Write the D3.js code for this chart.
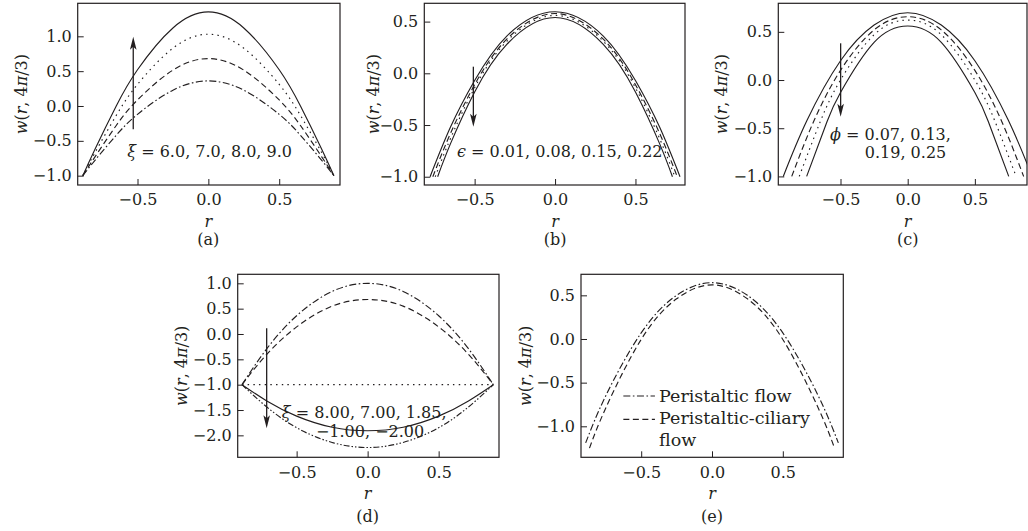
<!DOCTYPE html>
<html>
<head>
<meta charset="utf-8">
<script src="https://cdn.jsdelivr.net/npm/d3@7"></script>
<style>
  body { margin: 0; background: #fff; }
  svg text { font-family: "DejaVu Serif", serif; fill: #231f20; }
</style>
</head>
<body>
<div id="fig"></div>
<script>
// ---- data ----
// (a) xi = 6.0, 7.0, 8.0, 9.0
const rA = [-0.886, -0.8, -0.65, -0.5, -0.25, 0, 0.25, 0.5, 0.65, 0.8, 0.886];
const wA_xi9 = [-1, -0.62, 0.0, 0.52, 1.12, 1.35, 1.12, 0.52, 0.0, -0.62, -1];
const wA_xi8 = [-1, -0.67, -0.135, 0.31, 0.83, 1.03, 0.83, 0.31, -0.135, -0.67, -1];
const wA_xi7 = [-1, -0.73, -0.28, 0.087, 0.515, 0.68, 0.515, 0.087, -0.28, -0.73, -1];
const wA_xi6 = [-1, -0.78, -0.42, -0.12, 0.227, 0.36, 0.227, -0.12, -0.42, -0.78, -1];

// (b) epsilon = 0.01, 0.08, 0.15, 0.22
const rB_e01 = [-0.777, -0.65, -0.5, -0.3, 0, 0.3, 0.5, 0.65, 0.777];
const wB_e01 = [-1, -0.52, -0.07, 0.36, 0.595, 0.36, -0.07, -0.52, -1];
const rB_e08 = [-0.76, -0.65, -0.5, -0.3, 0, 0.3, 0.5, 0.65, 0.76];
const wB_e08 = [-1, -0.58, -0.11, 0.33, 0.578, 0.33, -0.11, -0.58, -1];
const rB_e15 = [-0.745, -0.65, -0.5, -0.3, 0, 0.3, 0.5, 0.65, 0.745];
const wB_e15 = [-1, -0.63, -0.14, 0.31, 0.56, 0.31, -0.14, -0.63, -1];
const rB_e22 = [-0.73, -0.65, -0.5, -0.3, 0, 0.3, 0.5, 0.65, 0.73];
const wB_e22 = [-1, -0.68, -0.18, 0.28, 0.54, 0.28, -0.18, -0.68, -1];

// (c) phi = 0.07, 0.13, 0.19, 0.25
const rC_p07 = [-0.926, -0.75, -0.5, -0.25, 0, 0.25, 0.5, 0.75, 0.926];
const wC_p07 = [-1, -0.42, 0.2, 0.57, 0.698, 0.57, 0.2, -0.42, -1];
const rC_p13 = [-0.863, -0.7, -0.5, -0.25, 0, 0.25, 0.5, 0.7, 0.863];
const wC_p13 = [-1, -0.43, 0.1, 0.52, 0.657, 0.52, 0.1, -0.43, -1];
const rC_p19 = [-0.807, -0.65, -0.5, -0.25, 0, 0.25, 0.5, 0.65, 0.807];
const wC_p19 = [-1, -0.43, 0.0, 0.47, 0.622, 0.47, 0.0, -0.43, -1];
const rC_p25 = [-0.752, -0.6, -0.5, -0.25, 0, 0.25, 0.5, 0.6, 0.752];
const wC_p25 = [-1, -0.43, -0.13, 0.39, 0.56, 0.39, -0.13, -0.43, -1];

// (d) xi = 8.00, 7.00, 1.85, -1.00, -2.00
const rD = [-0.885, -0.71, -0.5, -0.25, 0, 0.25, 0.5, 0.71, 0.885];
const wD_xi800 = [-1, -0.29, 0.36, 0.84, 1.0, 0.84, 0.36, -0.29, -1];
const wD_xi700 = [-1, -0.4, 0.14, 0.55, 0.68, 0.55, 0.14, -0.4, -1];
const wD_xi185 = [-1, -1, -1, -1, -1, -1, -1, -1, -1];
const wD_xim100 = [-1, -1.32, -1.62, -1.84, -1.91, -1.84, -1.62, -1.32, -1];
const wD_xim200 = [-1, -1.44, -1.85, -2.14, -2.24, -2.14, -1.85, -1.44, -1];

// (e) peristaltic vs peristaltic-ciliary flow
const rE_peri = [-0.892, -0.75, -0.5, -0.25, 0, 0.25, 0.5, 0.75, 0.892];
const wE_peri = [-1.19, -0.65, 0.07, 0.5, 0.645, 0.5, 0.07, -0.65, -1.19];
const rE_cil = [-0.865, -0.75, -0.5, -0.25, 0, 0.25, 0.5, 0.75, 0.865];
const wE_cil = [-1.25, -0.79, -0.005, 0.46, 0.62, 0.46, -0.005, -0.79, -1.25];

const xTicks = [-0.5, 0, 0.5];
const yTicksA = [-1, -0.5, 0, 0.5, 1];
const yTicksBCE = [-1, -0.5, 0, 0.5];
const yTicksD = [-2, -1.5, -1, -0.5, 0, 0.5, 1];
const legendE = ["Peristaltic flow", "Peristaltic-ciliary", "flow"];

// ---- drawing ----
const ink = "#231f20";
const dash = {
  solid: null,
  dot: "1.5,4.2",
  dashed: "6,3.5",
  dashdot: "7,2.5,1.6,2.5",
  dashdotdot: "6,2,1.5,2,1.5,2"
};

const svg = d3.select("#fig")
  .append("svg")
  .attr("width", 1028)
  .attr("height", 531);

const panels = [
  { id: "a", left: 77.7, right: 340, top: 3.3, bottom: 185, xd: [-0.922, 0.929], yd: [-1.134, 1.474],
    yTicks: yTicksA, ylab: -56, labOff: 60,
    series: [[rA, wA_xi9, "solid"], [rA, wA_xi8, "dot"], [rA, wA_xi7, "dashed"], [rA, wA_xi6, "dashdot"]] },
  { id: "b", left: 424.3, right: 685, top: 3.3, bottom: 185, xd: [-0.813, 0.808], yd: [-1.08, 0.677],
    yTicks: yTicksBCE, ylab: -51, labOff: 60,
    series: [[rB_e01, wB_e01, "solid"], [rB_e08, wB_e08, "dashed"], [rB_e15, wB_e15, "dot"], [rB_e22, wB_e22, "solid"]] },
  { id: "c", left: 778.3, right: 1027, top: 3.3, bottom: 185, xd: [-0.963, 0.888], yd: [-1.089, 0.796],
    yTicks: yTicksBCE, ylab: -56.6, labOff: 60,
    series: [[rC_p07, wC_p07, "solid"], [rC_p13, wC_p13, "dashed"], [rC_p19, wC_p19, "dot"], [rC_p25, wC_p25, "solid"]] },
  { id: "d", left: 237.7, right: 499, top: 274.3, bottom: 457.3, xd: [-0.915, 0.925], yd: [-2.433, 1.178],
    yTicks: yTicksD, ylab: -56, labOff: 65,
    series: [[rD, wD_xi800, "dashdot"], [rD, wD_xi700, "dashed"], [rD, wD_xi185, "dot"], [rD, wD_xim100, "solid"], [rD, wD_xim200, "dashdotdot"]] },
  { id: "e", left: 581, right: 843.3, top: 274.3, bottom: 457.3, xd: [-0.925, 0.927], yd: [-1.355, 0.741],
    yTicks: yTicksBCE, ylab: -56, labOff: 65,
    series: [[rE_peri, wE_peri, "dashdot"], [rE_cil, wE_cil, "dashed"]] }
];

const scales = {};

panels.forEach(p => {
  const x = d3.scaleLinear().domain(p.xd).range([p.left, p.right]);
  const y = d3.scaleLinear().domain(p.yd).range([p.bottom, p.top]);
  scales[p.id] = { x, y };
  const g = svg.append("g");

  g.append("clipPath").attr("id", "clip-" + p.id)
    .append("rect")
    .attr("x", p.left).attr("y", p.top)
    .attr("width", p.right - p.left).attr("height", p.bottom - p.top);

  const line = d3.line()
    .x(d => x(d[0]))
    .y(d => y(d[1]))
    .curve(d3.curveNatural);

  p.series.forEach(s => {
    g.append("path")
      .datum(d3.zip(s[0], s[1]))
      .attr("clip-path", `url(#clip-${p.id})`)
      .attr("d", line)
      .attr("fill", "none")
      .attr("stroke", ink)
      .attr("stroke-width", 1.15)
      .attr("stroke-dasharray", dash[s[2]]);
  });

  // axes with inward ticks
  g.append("g")
    .attr("transform", `translate(0,${p.bottom})`)
    .call(d3.axisBottom(x).tickValues(xTicks).tickFormat(d3.format(".1f"))
      .tickSize(-6).tickSizeOuter(0).tickPadding(9))
    .call(a => a.select(".domain").remove())
    .attr("font-size", 16).attr("font-family", "DejaVu Serif").attr("color", ink);

  g.append("g")
    .attr("transform", `translate(${p.left},0)`)
    .call(d3.axisLeft(y).tickValues(p.yTicks).tickFormat(d3.format(".1f"))
      .tickSize(-6).tickSizeOuter(0).tickPadding(6))
    .call(a => a.select(".domain").remove())
    .attr("font-size", 16).attr("font-family", "DejaVu Serif").attr("color", ink);

  g.append("rect")
    .attr("x", p.left).attr("y", p.top)
    .attr("width", p.right - p.left).attr("height", p.bottom - p.top)
    .attr("fill", "none").attr("stroke", ink).attr("stroke-width", 1.2);

  // y title w(r, 4π/3)
  const yt = g.append("text")
    .attr("transform", `translate(${p.left + p.ylab},${(p.top + p.bottom) / 2}) rotate(-90)`)
    .attr("text-anchor", "middle")
    .attr("dy", "0.35em")
    .attr("font-size", 16);
  yt.append("tspan").attr("font-style", "italic").text("w");
  yt.append("tspan").text("(");
  yt.append("tspan").attr("font-style", "italic").text("r");
  yt.append("tspan").text(", 4");
  yt.append("tspan").attr("font-style", "italic").text("π");
  yt.append("tspan").text("/3)");

  // x title and panel tag
  g.append("text")
    .attr("x", x(0)).attr("y", p.bottom + 41.5)
    .attr("text-anchor", "middle").attr("font-size", 16).attr("font-style", "italic")
    .text("r");
  g.append("text")
    .attr("x", x(0)).attr("y", p.bottom + p.labOff)
    .attr("text-anchor", "middle").attr("font-size", 16)
    .text(`(${p.id})`);
});

// arrows (data coords: r, w from -> to)
function arrow(s, r, w0, w1) {
  const x0 = s.x(r), y0 = s.y(w0), y1 = s.y(w1);
  const dir = y1 < y0 ? 1 : -1;
  svg.append("line")
    .attr("x1", x0).attr("y1", y0).attr("x2", x0).attr("y2", y1 + dir * 8)
    .attr("stroke", ink).attr("stroke-width", 1.3);
  svg.append("path")
    .attr("d", `M${x0},${y1} L${x0 - 3.3},${y1 + dir * 13} L${x0},${y1 + dir * 10} L${x0 + 3.3},${y1 + dir * 13} Z`)
    .attr("fill", ink);
}
arrow(scales.a, -0.53, -0.334, 0.993);
arrow(scales.b, -0.508, 0.064, -0.516);
arrow(scales.c, -0.499, 0.381, -0.381);
arrow(scales.d, -0.711, 0.112, -1.861);

function label(s, r, w, parts) {
  const t = svg.append("text")
    .attr("x", s.x(r)).attr("y", s.y(w)).attr("font-size", 16);
  parts.forEach(pt => {
    const sp = t.append("tspan").text(pt[0]);
    if (pt[1]) sp.attr("font-style", "italic");
  });
}
label(scales.a, -0.572, -0.73, [["ξ", true], [" = 6.0, 7.0, 8.0, 9.0"]]);
label(scales.b, -0.61, -0.807, [["ϵ", true], [" = 0.01, 0.08, 0.15, 0.22"]]);
label(scales.c, -0.579, -0.622, [["ϕ", true], [" = 0.07, 0.13,"]]);
label(scales.c, -0.319, -0.809, [["0.19, 0.25"]]);
label(scales.d, -0.604, -1.66, [["ξ", true], [" = 8.00, 7.00, 1.85,"]]);
label(scales.d, -0.364, -2.035, [["−1.00, −2.00"]]);

// legend in (e)
const sE = scales.e;
const legY = [-0.653, -0.92];
["dashdot", "dashed"].forEach((st, i) => {
  svg.append("line")
    .attr("x1", sE.x(-0.626)).attr("x2", sE.x(-0.403))
    .attr("y1", sE.y(legY[i])).attr("y2", sE.y(legY[i]))
    .attr("stroke", ink).attr("stroke-width", 1.15)
    .attr("stroke-dasharray", dash[st]);
});
legendE.forEach((txt, i) => {
  svg.append("text")
    .attr("x", sE.x(-0.374))
    .attr("y", sE.y(legY[0]) + 6 + i * 22)
    .attr("font-size", 17.5)
    .text(txt);
});
</script>
</body>
</html>
